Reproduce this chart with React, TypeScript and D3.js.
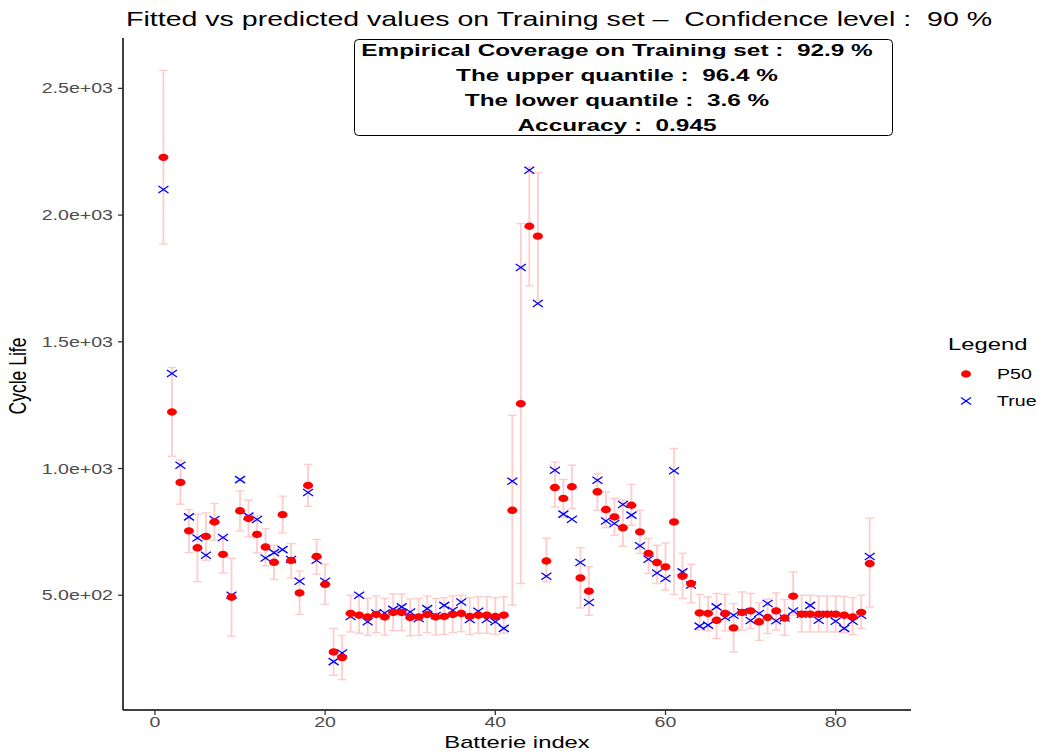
import React from "react";
import * as d3 from "d3";

const indices = d3.range(1, 85);
const p50 = [2228,1223,945,754,687,732,789,661,492,833,803,740,690,630,818,637,509,933,653,543,276,254,
  428,421,414,424,414,432,432,412,414,424,414,416,424,428,416,421,421,416,421,
  835,1256,1956,1917,635,925,882,928,568,516,908,838,809,766,855,750,665,629,612,789,575,546,
  430,428,401,428,371,432,438,395,412,438,410,496,425,425,425,425,425,421,414,432,625];
const truth = [2101,1375,1013,809,726,658,799,728,500,956,812,799,647,668,680,641,555,905,638,555,238,272,
  416,500,395,430,430,444,454,434,408,447,420,460,441,473,404,437,404,395,369,
  950,1793,2177,1651,575,993,820,800,629,471,954,793,783,858,816,695,642,588,566,991,592,540,
  378,382,454,412,421,434,400,428,467,399,410,438,425,460,401,425,397,369,397,421,653];
const lower = [1886,1048,859,668,553,638,717,588,338,754,730,668,616,562,746,568,424,851,583,464,184,167,
  355,350,342,352,343,360,360,340,342,352,343,345,352,356,345,350,350,345,350,
  461,546,1721,1664,553,848,807,842,450,421,835,767,737,693,776,665,586,546,520,503,487,470,
  362,359,329,359,276,362,369,322,349,362,342,421,355,355,355,355,355,352,345,369,453];
const upper = [2571,1399,1033,838,820,825,862,730,646,912,875,816,762,697,891,704,595,1016,720,622,369,341,
  500,495,487,497,487,505,505,485,487,497,487,490,497,500,490,494,494,490,494,
  1210,1967,2190,2167,725,1026,957,1013,687,612,980,908,882,875,937,835,724,697,706,1079,665,622,
  503,493,507,503,467,513,507,470,485,509,483,592,500,500,497,497,497,495,490,500,804];
const xTicks = [0, 20, 40, 60, 80];
const yTicks = [500, 1000, 1500, 2000, 2500];
const yTickLabels = ["5.0e+02", "1.0e+03", "1.5e+03", "2.0e+03", "2.5e+03"];
const annotationLines = [
  "Empirical Coverage on Training set :  92.9 %",
  "The upper quantile :  96.4 %",
  "The lower quantile :  3.6 %",
  "Accuracy :  0.945",
];
const legendLabels = ["P50", "True"];

const SX = 1.4;
const FONT = "'Liberation Sans', Arial, Helvetica, sans-serif";

function SText(props: any) {
  const { x, y, anchor = "start", size, weight = "normal", fill = "#000", rotate = 0, children } = props;
  return (
    <text
      transform={`translate(${x},${y}) scale(${SX},1)${rotate ? ` rotate(${rotate})` : ""}`}
      textAnchor={anchor}
      fontSize={size}
      fontWeight={weight}
      fill={fill}
      fontFamily={FONT}
      style={{ whiteSpace: "pre" }}
    >
      {children}
    </text>
  );
}

export default function App() {
  const W = 1041, H = 756;
  const left = 123, right = 911, top = 40, bottom = 710;
  const x = d3.scaleLinear().domain([-3.75, 88.85]).range([left, right]);
  const y = d3.scaleLinear().domain([47, 2691]).range([bottom, top]);
  const capHalf = 4.3;
  const errColor = "#FFCCCC";

  return (
    <svg width={W} height={H} style={{ position: "absolute", left: 0, top: 0, background: "#fff" }}>
      <rect x={0} y={0} width={W} height={H} fill="#fff" />
      {/* title */}
      <SText x={126} y={26} size={20.4}>
        {"Fitted vs predicted values on Training set –  Confidence level :  90 %"}
      </SText>

      {/* error bars */}
      <g stroke={errColor} strokeWidth={1.8} fill="none">
        {indices.map((d, i) => {
          const cx = x(d);
          return (
            <g key={"e" + d}>
              <line x1={cx} x2={cx} y1={y(lower[i])} y2={y(upper[i])} />
              <line x1={cx - capHalf} x2={cx + capHalf} y1={y(lower[i])} y2={y(lower[i])} strokeWidth={1.4} />
              <line x1={cx - capHalf} x2={cx + capHalf} y1={y(upper[i])} y2={y(upper[i])} strokeWidth={1.4} />
            </g>
          );
        })}
      </g>

      {/* true values */}
      <g stroke="#0000FF" strokeWidth={1.3}>
        {indices.map((d, i) => {
          const cx = x(d), cy = y(truth[i]);
          return (
            <g key={"t" + d}>
              <line x1={cx - 5} x2={cx + 5} y1={cy - 3.5} y2={cy + 3.5} />
              <line x1={cx - 5} x2={cx + 5} y1={cy + 3.5} y2={cy - 3.5} />
            </g>
          );
        })}
      </g>

      {/* P50 */}
      <g fill="#FF0000">
        {indices.map((d, i) => (
          <ellipse key={"p" + d} cx={x(d)} cy={y(p50[i])} rx={5} ry={3.7} />
        ))}
      </g>

      {/* axes */}
      <line x1={left} x2={left} y1={top - 2} y2={bottom} stroke="#000" strokeWidth={1.5} />
      <line x1={left} x2={right} y1={bottom} y2={bottom} stroke="#000" strokeWidth={1.5} />
      {yTicks.map((t, i) => (
        <g key={"yt" + t}>
          <line x1={left - 5} x2={left} y1={y(t)} y2={y(t)} stroke="#333" strokeWidth={1.3} />
          <SText x={113} y={y(t) + 5} anchor="end" size={14} fill="#4D4D4D">
            {yTickLabels[i]}
          </SText>
        </g>
      ))}
      {xTicks.map((t) => (
        <g key={"xt" + t}>
          <line x1={x(t)} x2={x(t)} y1={bottom} y2={bottom + 5} stroke="#333" strokeWidth={1.3} />
          <SText x={x(t)} y={727} anchor="middle" size={14} fill="#4D4D4D">
            {String(t)}
          </SText>
        </g>
      ))}
      <SText x={517} y={748} anchor="middle" size={17}>Batterie index</SText>
      <SText x={26} y={376} anchor="middle" size={17.5} rotate={-90}>Cycle Life</SText>

      {/* annotation box */}
      <rect x={354.5} y={39.5} width={538} height={96} rx={4} fill="#fff" stroke="#000" strokeWidth={1} />
      {annotationLines.map((s, i) => (
        <SText key={"a" + i} x={617} y={56 + i * 25} anchor="middle" size={17.4} weight="bold">
          {s}
        </SText>
      ))}

      {/* legend */}
      <SText x={948} y={350} size={17}>Legend</SText>
      <ellipse cx={966} cy={374} rx={5} ry={3.7} fill="#FF0000" />
      <SText x={997} y={379} size={14}>{legendLabels[0]}</SText>
      <g stroke="#0000FF" strokeWidth={1.3}>
        <line x1={961} x2={971} y1={397.5} y2={404.5} />
        <line x1={961} x2={971} y1={404.5} y2={397.5} />
      </g>
      <SText x={997} y={406} size={14}>{legendLabels[1]}</SText>
    </svg>
  );
}
